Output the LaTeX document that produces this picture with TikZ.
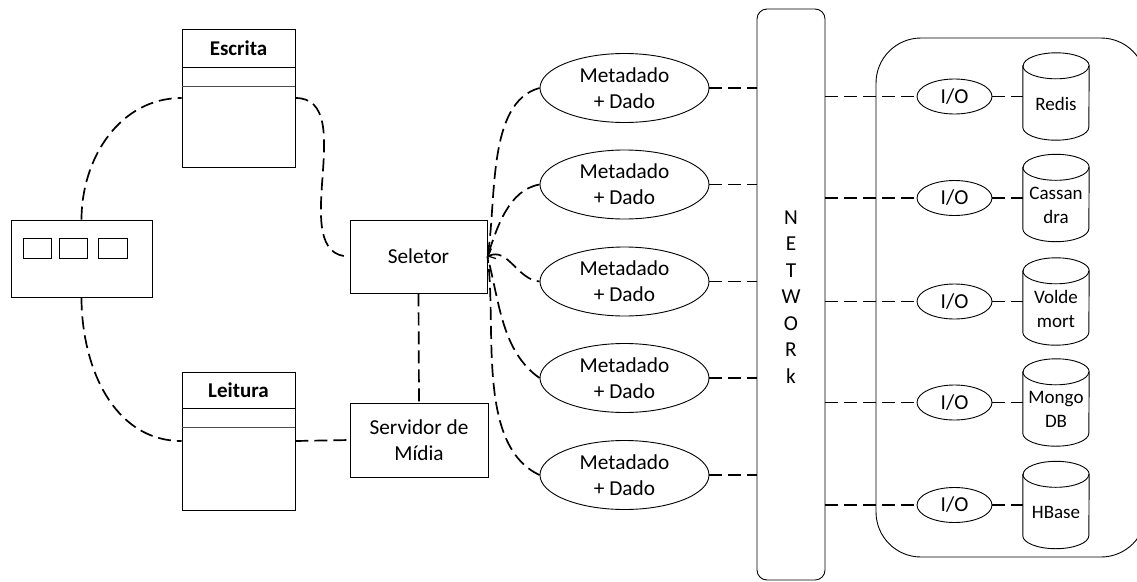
\documentclass[tikz,border=0pt]{standalone}
\usepackage{fontspec}
\setmainfont{Carlito}
\usetikzlibrary{arrows.meta,shapes.geometric}
\tikzset{
  box/.style={draw, line width=0.9pt, inner sep=0pt, align=center},
  ell/.style={draw, ellipse, line width=0.9pt, inner sep=0pt, align=center},
  dl/.style={line width=1.7pt, dash pattern=on 13pt off 6pt},
  txt/.style={font=\fontsize{21.3}{26}\selectfont, align=center},
  dbtxt/.style={font=\fontsize{19}{24}\selectfont, align=center},
}
\begin{document}
\begin{tikzpicture}[x=1pt,y=-1pt]
\useasboundingbox (0,0) rectangle (1137,581);
% left panel
\node[box, minimum width=141pt, minimum height=77pt] (panel) at (81.5,258.5) {};
\node[box, minimum width=28pt, minimum height=20pt] (sq1) at (37,248) {};
\node[box, minimum width=28pt, minimum height=20pt] (sq2) at (73,248) {};
\node[box, minimum width=29pt, minimum height=20pt] (sq3) at (112.5,248) {};
% Escrita
\node[box, minimum width=113pt, minimum height=138pt] (esc) at (238.5,98) {};
\node[txt, font=\fontsize{21}{26}\selectfont\bfseries] (esct) at (238.5,48) {Escrita};
\draw[line width=0.9pt] (182,67) -- (295,67);
\draw[line width=0.6pt, black!70] (182,86) -- (295,86);
% Leitura
\node[box, minimum width=113pt, minimum height=138pt] (leit) at (238.5,441) {};
\node[txt, font=\fontsize{21}{26}\selectfont\bfseries] (leitt) at (238.5,390) {Leitura};
\draw[line width=0.9pt] (182,408) -- (295,408);
\draw[line width=0.6pt, black!70] (182,427) -- (295,427);
% Seletor / Servidor
\node[box, txt, minimum width=137pt, minimum height=73pt] (sel) at (418.5,256.5) {Seletor};
\node[box, txt, minimum width=138pt, minimum height=74pt] (serv) at (419,440) {Servidor de\\Mídia};
% ellipses
\foreach \i/\y in {1/88,2/184.5,3/281.5,4/378,5/475}{
  \node[ell, txt, minimum width=169pt, minimum height=69pt] (e\i) at (624.5,\y) {Metadado\\+ Dado};
}
% network
\node[draw, line width=0.9pt, rounded corners=10pt, minimum width=68pt, minimum height=571pt] (net) at (791,294.5) {};
\node[txt] (nett) at (791,297) {N\\[0.5pt]E\\[0.5pt]T\\[0.5pt]W\\[0.5pt]O\\[0.5pt]R\\[0.5pt]k};
% container
\draw[line width=0.9pt, rounded corners=45pt] (876,38) rectangle (1146,557);
% I/O and databases
\foreach \i/\y/\t in {1/96.5/Redis,2/198/Cassan\\dra,3/301.5/Volde\\mort,4/402.5/Mongo\\DB,5/505/HBase}{
  \node[ell, txt, minimum width=75pt, minimum height=35pt] (io\i) at (954.5,\y) {I/O};
  \node[minimum width=66pt, minimum height=87pt, inner sep=0pt] (c\i) at (1056,\y) {};
  \draw[line width=0.9pt] ([yshift=-13pt]c\i.north west) -- ([yshift=13pt]c\i.south west)
     arc[start angle=180, end angle=360, x radius=33pt, y radius=13pt]
     -- ([yshift=-13pt]c\i.north east)
     arc[start angle=0, end angle=180, x radius=33pt, y radius=13pt] -- cycle;
  \draw[line width=0.9pt] ([yshift=-13pt]c\i.north west) arc[start angle=180, end angle=360, x radius=33pt, y radius=13pt];
  \node[dbtxt] (ct\i) at (1056,\y+7) {\t};
  \draw[dl] (io\i.west -| net.east) -- (io\i.west);
  \draw[dl] (io\i.east) -- (c\i.west);
}
% ellipse to network
\foreach \i in {1,...,5}{
  \draw[dl] (e\i.east) -- (e\i.east -| net.west);
}
% left connections
\draw[dl] (panel.north) to[out=90,in=180] (esc.west);
\draw[dl] (panel.south) to[out=-90,in=180] (leit.west);
\draw[dl] (esc.east) to[out=0,in=180] (sel.west);
\draw[dl] (sel.south) -- (serv.north);
\draw[dl] (leit.east) -- (serv.west);
% ellipses to selector
\draw[dl] (e1.west) to[out=195,in=80,looseness=0.8] (sel.east);
\draw[dl] (e2.west) to[out=190,in=72,looseness=0.9] (sel.east);
\draw[dl, {Straight Barb[length=6pt,width=11pt,line width=1.2pt]}-] (sel.east) to[out=25,in=175] (e3.west);
\draw[dl] (e4.west) to[out=145,in=-75,looseness=0.9] (sel.east);
\draw[dl] (e5.west) to[out=155,in=-82,looseness=0.8] (sel.east);
\end{tikzpicture}
\end{document}
